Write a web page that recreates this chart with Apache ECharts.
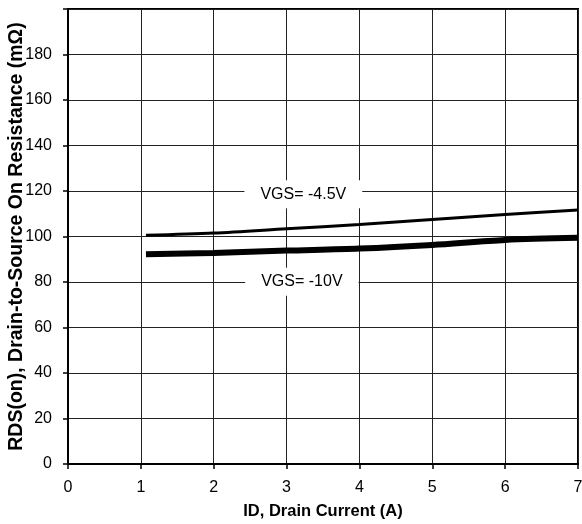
<!DOCTYPE html>
<html>
<head>
<meta charset="utf-8">
<style>
  html, body { margin: 0; padding: 0; background: #fff; }
  #chart { width: 582px; height: 524px; }
</style>
<script src="https://cdn.jsdelivr.net/npm/echarts@6/dist/echarts.min.js"></script>
</head>
<body>
<div id="chart"></div>
<script>
// Drain current (A) sample points
const drainCurrent = [1.07, 2, 3, 4, 5, 6, 7];
// On-resistance (mΩ) at VGS = -4.5 V
const rdsVgs45 = [100.5, 101.5, 103.4, 105.3, 107.5, 109.7, 111.6];
// On-resistance (mΩ) at VGS = -10 V
const rdsVgs10 = [92.2, 92.8, 93.8, 94.7, 96.3, 98.5, 99.4];

const curveLabels = ['VGS= -4.5V', 'VGS= -10V'];
const labelCoords = [[3.23, 118.6], [3.21, 80.1]];

const font = '"Liberation Sans", Arial, sans-serif';

function pairs(xs, ys) { return xs.map((x, i) => [x, ys[i]]); }

function curveLabel(text, coord) {
  return {
    symbol: 'rect',
    symbolSize: 1,
    itemStyle: { color: 'rgba(0,0,0,0)' },
    silent: true,
    data: [{
      coord: coord,
      label: {
        show: true,
        position: 'inside',
        formatter: text,
        color: '#000',
        fontFamily: font,
        fontSize: 16,
        backgroundColor: '#fff',
        padding: [6, 16, 6, 16]
      }
    }]
  };
}

const chart = echarts.init(document.getElementById('chart'));
chart.setOption({
  animation: false,
  backgroundColor: '#fff',
  grid: {
    left: 68, right: 4, top: 9, bottom: 60,
    outerBoundsMode: 'none', containLabel: false,
    show: true, borderColor: '#000', borderWidth: 2, backgroundColor: 'transparent'
  },
  xAxis: {
    type: 'value', min: 0, max: 7, interval: 1,
    name: 'ID, Drain Current (A)',
    nameLocation: 'middle', nameGap: 39, nameMoveOverlap: false,
    nameTextStyle: { fontFamily: font, fontWeight: 'bold', fontSize: 16.5, color: '#000' },
    axisLine: { show: true, lineStyle: { color: '#000', width: 2 } },
    axisTick: { show: true, inside: false, length: 5, lineStyle: { color: '#000', width: 1.5 } },
    axisLabel: { fontFamily: font, fontSize: 16, color: '#000', margin: 16 },
    splitLine: { show: true, lineStyle: { color: '#222', width: 1 } }
  },
  yAxis: {
    type: 'value', min: 0, max: 200, interval: 20,
    name: 'RDS(on), Drain-to-Source On Resistance (mΩ)',
    nameLocation: 'middle', nameGap: 41, nameMoveOverlap: false,
    nameTextStyle: { fontFamily: font, fontWeight: 'bold', fontSize: 19.5, color: '#000' },
    axisLine: { show: true, lineStyle: { color: '#000', width: 2 } },
    axisTick: { show: true, inside: false, length: 5, lineStyle: { color: '#000', width: 1.5 } },
    axisLabel: {
      fontFamily: font, fontSize: 16, color: '#000', margin: 16,
      formatter: v => (v === 200 ? '' : String(v))
    },
    splitLine: { show: true, lineStyle: { color: '#222', width: 1 } }
  },
  series: [
    {
      type: 'line', name: curveLabels[0],
      data: pairs(drainCurrent, rdsVgs45),
      smooth: 0.3, symbol: 'none',
      lineStyle: { color: '#000', width: 3 },
      markPoint: curveLabel(curveLabels[0], labelCoords[0]),
      z: 3
    },
    {
      type: 'line', name: curveLabels[1],
      data: pairs(drainCurrent, rdsVgs10),
      smooth: 0.3, symbol: 'none',
      lineStyle: { color: '#000', width: 6 },
      markPoint: curveLabel(curveLabels[1], labelCoords[1]),
      z: 3
    }
  ]
});
</script>
</body>
</html>
